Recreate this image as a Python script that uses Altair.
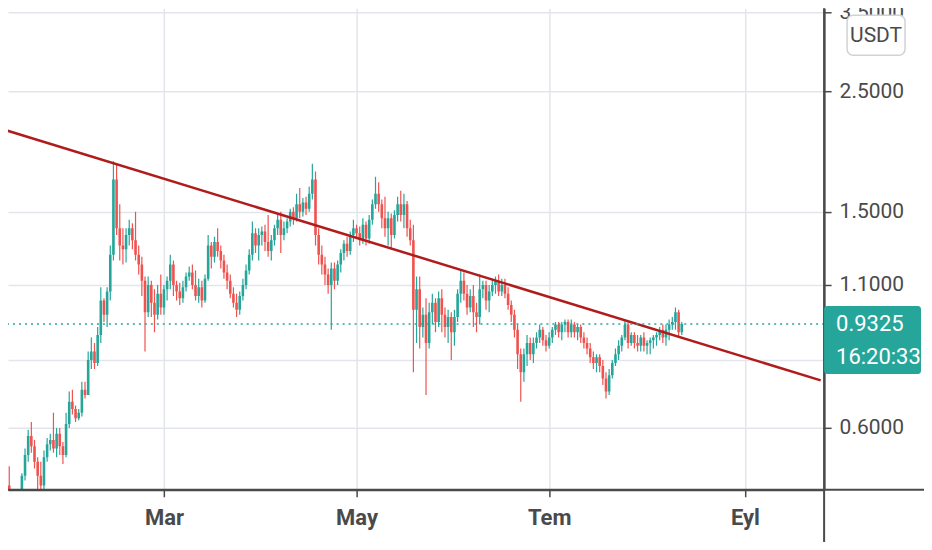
import altair as alt
import pandas as pd

# ---------------- data (daily candles) ----------------
start_date = "2021-01-10"
first_open = 0.505

closes = [
    0.47, 0.45, 0.44, 0.43, 0.445, 0.49, 0.535, 0.58, 0.555, 0.52,
    0.49, 0.47, 0.53, 0.56, 0.57, 0.55, 0.585, 0.555, 0.535, 0.61,
    0.67, 0.65, 0.625, 0.64, 0.705, 0.69, 0.80, 0.83, 0.79, 0.89,
    1.03, 0.97, 1.07, 1.25, 1.72, 1.40, 1.30, 1.28, 1.36, 1.40,
    1.33, 1.25, 1.20, 1.12, 0.98, 1.10, 1.02, 0.97, 1.06, 1.00,
    1.08, 1.12, 1.20, 1.10, 1.07, 1.04, 1.09, 1.14, 1.16, 1.10,
    1.05, 1.09, 1.03, 1.13, 1.30, 1.24, 1.32, 1.27, 1.22, 1.16,
    1.12, 1.06, 1.02, 0.99, 1.05, 1.10, 1.17, 1.25, 1.37, 1.30,
    1.36, 1.38, 1.32, 1.27, 1.33, 1.40, 1.45, 1.36, 1.40, 1.44,
    1.50, 1.46, 1.55, 1.50, 1.56, 1.52, 1.62, 1.72, 1.36, 1.25,
    1.20, 1.15, 1.10, 1.18, 1.12, 1.20, 1.26, 1.31, 1.27, 1.36,
    1.40, 1.37, 1.33, 1.42, 1.34, 1.45, 1.55, 1.62, 1.55, 1.46,
    1.40, 1.46, 1.36, 1.48, 1.55, 1.48, 1.55, 1.40, 1.33, 0.99,
    1.08, 0.92, 0.97, 0.86, 0.98, 1.02, 0.94, 1.04, 0.97, 0.92,
    0.96, 0.90, 0.96, 1.06, 1.12, 1.06, 1.00, 1.05, 0.98, 0.96,
    1.08, 1.10, 1.03, 1.07, 1.10, 1.12, 1.07, 1.10, 1.06, 1.01,
    0.97, 0.91, 0.82, 0.76, 0.82, 0.86, 0.82, 0.86, 0.88, 0.91,
    0.87, 0.85, 0.88, 0.91, 0.93, 0.90, 0.93, 0.94, 0.90, 0.93,
    0.90, 0.92, 0.88, 0.86, 0.84, 0.81, 0.79, 0.81, 0.78, 0.74,
    0.70, 0.75, 0.79, 0.82, 0.85, 0.88, 0.93, 0.86, 0.89, 0.86,
    0.85, 0.88, 0.85, 0.86, 0.87, 0.88, 0.89, 0.91, 0.88, 0.91,
    0.93, 0.94, 0.98, 0.90, 0.9325,
]
highs = [
    0.515, 0.51, 0.455, 0.45, 0.455, 0.495, 0.55, 0.595, 0.615, 0.57,
    0.53, 0.52, 0.545, 0.575, 0.585, 0.64, 0.60, 0.60, 0.565, 0.64,
    0.70, 0.705, 0.66, 0.65, 0.73, 0.73, 0.83, 0.88, 0.86, 0.92,
    1.09, 1.04, 1.09, 1.30, 1.86, 1.83, 1.55, 1.40, 1.40, 1.45,
    1.43, 1.50, 1.30, 1.24, 1.14, 1.14, 1.12, 1.08, 1.10, 1.15,
    1.10, 1.14, 1.25, 1.22, 1.12, 1.11, 1.12, 1.16, 1.19, 1.20,
    1.17, 1.13, 1.12, 1.15, 1.36, 1.32, 1.35, 1.40, 1.30, 1.25,
    1.20, 1.15, 1.09, 1.06, 1.07, 1.13, 1.20, 1.28, 1.44, 1.40,
    1.40, 1.41, 1.42, 1.48, 1.36, 1.42, 1.48, 1.50, 1.44, 1.46,
    1.52, 1.53, 1.62, 1.66, 1.59, 1.60, 1.67, 1.84, 1.78, 1.40,
    1.30, 1.24, 1.18, 1.21, 1.21, 1.22, 1.28, 1.33, 1.35, 1.38,
    1.45, 1.42, 1.41, 1.46, 1.44, 1.48, 1.58, 1.74, 1.70, 1.58,
    1.60, 1.50, 1.49, 1.51, 1.60, 1.64, 1.62, 1.57, 1.45, 1.42,
    1.14, 1.14, 1.00, 1.04, 1.02, 1.06, 1.04, 1.07, 1.08, 1.00,
    0.99, 0.98, 0.99, 1.08, 1.17, 1.16, 1.10, 1.08, 1.10, 1.02,
    1.15, 1.12, 1.12, 1.10, 1.13, 1.14, 1.15, 1.13, 1.13, 1.09,
    1.03, 0.99, 0.93, 0.84, 0.84, 0.89, 0.88, 0.88, 0.90, 0.93,
    0.92, 0.89, 0.90, 0.92, 0.94, 0.94, 0.94, 0.95, 0.95, 0.95,
    0.94, 0.93, 0.93, 0.90, 0.88, 0.86, 0.83, 0.82, 0.82, 0.80,
    0.76, 0.77, 0.80, 0.84, 0.87, 0.89, 0.95, 0.94, 0.90, 0.90,
    0.89, 0.89, 0.90, 0.87, 0.88, 0.89, 0.90, 0.92, 0.93, 0.93,
    0.95, 0.96, 1.00, 0.99, 0.94,
]
lows = [
    0.44, 0.43, 0.42, 0.41, 0.42, 0.44, 0.48, 0.52, 0.54, 0.505,
    0.455, 0.44, 0.46, 0.52, 0.545, 0.54, 0.53, 0.535, 0.515, 0.53,
    0.60, 0.635, 0.615, 0.62, 0.63, 0.68, 0.69, 0.77, 0.77, 0.78,
    0.86, 0.94, 0.92, 1.03, 1.22, 1.36, 1.22, 1.20, 1.21, 1.30,
    1.28, 1.22, 1.15, 1.05, 0.83, 0.96, 0.96, 0.90, 0.95, 0.97,
    0.97, 1.03, 1.08, 1.05, 1.03, 1.01, 1.02, 1.07, 1.12, 1.08,
    1.03, 1.02, 1.00, 1.02, 1.12, 1.18, 1.21, 1.24, 1.18, 1.13,
    1.08, 1.04, 1.00, 0.96, 0.97, 1.03, 1.08, 1.15, 1.22, 1.26,
    1.22, 1.30, 1.27, 1.24, 1.22, 1.30, 1.36, 1.26, 1.33, 1.37,
    1.41, 1.42, 1.44, 1.46, 1.47, 1.48, 1.50, 1.58, 1.30, 1.20,
    1.15, 1.10, 1.06, 0.91, 1.08, 1.10, 1.16, 1.22, 1.24, 1.25,
    1.32, 1.34, 1.30, 1.31, 1.30, 1.31, 1.42, 1.52, 1.50, 1.40,
    1.35, 1.30, 1.28, 1.34, 1.44, 1.44, 1.40, 1.35, 1.30, 0.76,
    0.86, 0.84, 0.88, 0.69, 0.84, 0.93, 0.90, 0.92, 0.90, 0.88,
    0.86, 0.80, 0.85, 0.94, 1.02, 1.03, 0.97, 0.98, 0.92, 0.90,
    0.93, 1.04, 0.99, 0.98, 1.05, 1.06, 1.05, 1.05, 1.04, 0.99,
    0.94, 0.88, 0.77, 0.67, 0.73, 0.78, 0.80, 0.79, 0.84, 0.86,
    0.85, 0.83, 0.84, 0.86, 0.89, 0.88, 0.87, 0.90, 0.88, 0.88,
    0.88, 0.87, 0.86, 0.84, 0.82, 0.79, 0.77, 0.76, 0.76, 0.72,
    0.68, 0.69, 0.74, 0.78, 0.80, 0.83, 0.87, 0.84, 0.85, 0.84,
    0.83, 0.83, 0.83, 0.82, 0.82, 0.84, 0.85, 0.87, 0.86, 0.85,
    0.87, 0.91, 0.91, 0.88, 0.89,
]

last_price = 0.9325
last_price_label = "0.9325"
countdown_label = "16:20:33"
currency_label = "USDT"

month_names = ["Oca", "Şub", "Mar", "Nis", "May", "Haz",
               "Tem", "Ağu", "Eyl", "Eki", "Kas", "Ara"]
month_ticks = ["2021-03-01", "2021-05-01", "2021-07-01", "2021-09-01"]
price_ticks = [0.6, 0.8, 1.1, 1.5, 2.5, 3.5]

trend_dates = ["2021-01-10", "2021-09-25"]
trend_prices = [2.12, 0.734]

x_range = ["2021-01-12 04:30", "2021-09-24 12:00"]
y_range = [0.4615, 3.557]

# ---------------- table ----------------
dates = pd.date_range(start_date, periods=len(closes), freq="D")
opens = [first_open] + closes[:-1]
df = pd.DataFrame({
    "date": dates.strftime("%Y-%m-%d"),
    "open": opens,
    "close": closes,
    "high": [max(h, o, c) for h, o, c in zip(highs, opens, closes)],
    "low": [min(l, o, c) for l, o, c in zip(lows, opens, closes)],
})
df["dir"] = ["up" if c >= o else "down" for o, c in zip(df["open"], df["close"])]


def ms(s):
    return int(pd.Timestamp(s, tz="UTC").value // 10**6)


x_dom = [ms(s) for s in x_range]
tick_ms = [ms(s) for s in month_ticks]

TEAL = "#26a69a"
RED = "#ef5350"
TREND = "#b01c1c"
AXIS = "#4a4a4a"
GRID = "#e2e5eb"
FONT = "Roboto, sans-serif"
W, H = 817, 482

x_scale = alt.Scale(type="utc", domain=x_dom, nice=False)
y_scale = alt.Scale(type="log", domain=y_range, nice=False, zero=False)
color_scale = alt.Scale(domain=["up", "down"], range=[TEAL, RED])

names_js = "[" + ",".join("'" + m + "'" for m in month_names) + "]"

x_axis = alt.Axis(
    values=tick_ms, labelExpr=names_js + "[utcmonth(datum.value)]",
    labelFont=FONT, labelFontSize=22, labelFontWeight="bold", labelColor=AXIS,
    labelPadding=11, labelOverlap=False, labelFlush=False,
    tickColor=AXIS, tickSize=7, tickWidth=1.5,
    domainColor=AXIS, domainWidth=2, title=None,
    grid=True, gridColor=GRID, gridWidth=1.5, zindex=0,
)
y_axis = alt.Axis(
    orient="right", values=price_ticks,
    labelExpr="datum.value == 0.8 ? '' : format(datum.value, '.4f')",
    labelFont=FONT, labelFontSize=21, labelColor=AXIS, labelPadding=8,
    labelOverlap=False, labelFlush=False,
    tickColor=AXIS, tickSize=7, tickWidth=1.5,
    domainColor=AXIS, domainWidth=2, title=None,
    grid=True, gridColor=GRID, gridWidth=1.5, zindex=0,
)

X = alt.X("date:T", scale=x_scale, axis=x_axis, title=None)
base = alt.Chart(df)

wicks = base.mark_rule(strokeWidth=1.2, clip=True).encode(
    x=X,
    y=alt.Y("low:Q", scale=y_scale, axis=y_axis, title=None),
    y2="high:Q",
    color=alt.Color("dir:N", scale=color_scale, legend=None),
)
bodies = base.mark_bar(size=2.6, clip=True).encode(
    x=X,
    y=alt.Y("open:Q", scale=y_scale, axis=y_axis, title=None),
    y2="close:Q",
    color=alt.Color("dir:N", scale=color_scale, legend=None),
)

trend_df = pd.DataFrame({"date": trend_dates, "price": trend_prices})
trend = alt.Chart(trend_df).mark_line(color=TREND, strokeWidth=2.5, clip=True).encode(
    x=X,
    y=alt.Y("price:Q", scale=y_scale, axis=y_axis, title=None),
)

last_df = pd.DataFrame({"p": [last_price], "label": [last_price_label],
                        "timer": [countdown_label]})
last_base = alt.Chart(last_df)
PY = alt.Y("p:Q", scale=y_scale, axis=y_axis, title=None)
price_line = last_base.mark_rule(color=TEAL, strokeWidth=1.5, strokeDash=[2, 4]).encode(
    y=PY,
)
price_box = last_base.mark_rect(color=TEAL, yOffset=-18, y2Offset=50,
                                cornerRadius=3, clip=False).encode(
    x=alt.value(W), x2=alt.value(W + 97),
    y=PY, y2="p:Q",
)
price_text = last_base.mark_text(align="left", baseline="middle", font=FONT,
                                 fontSize=22, color="white", clip=False).encode(
    x=alt.value(W + 12), y=PY, text="label:N",
)
timer_text = last_base.mark_text(align="left", baseline="middle", font=FONT,
                                 fontSize=22, color="white", dy=33, clip=False).encode(
    x=alt.value(W + 12), y=PY, text="timer:N",
)

one = pd.DataFrame({"k": [0]})
x_line = alt.Chart(one).mark_rule(color=AXIS, strokeWidth=2, clip=False).encode(
    x=alt.value(0), x2=alt.value(W + 110), y=alt.value(H))
y_line = alt.Chart(one).mark_rule(color=AXIS, strokeWidth=2, clip=False).encode(
    x=alt.value(W), y=alt.value(0), y2=alt.value(H + 70))

cur_df = pd.DataFrame({"label": [currency_label]})
cur_box = alt.Chart(cur_df).mark_rect(fill="white", stroke="#cfd2d8", strokeWidth=1.5,
                                      cornerRadius=6, clip=False).encode(
    x=alt.value(W + 23), x2=alt.value(W + 81), y=alt.value(7), y2=alt.value(47))
cur_text = alt.Chart(cur_df).mark_text(align="center", baseline="middle", font=FONT,
                                       fontSize=21, color=AXIS, clip=False).encode(
    x=alt.value(W + 52), y=alt.value(28), text="label:N")

chart = alt.layer(
    wicks, bodies, trend, price_line, x_line, y_line,
    price_box, price_text, timer_text, cur_box, cur_text,
).properties(
    width=W, height=H,
    autosize=alt.AutoSizeParams(type="none"),
    padding={"left": 0, "top": 0, "right": 100, "bottom": 52},
    background="white",
).configure_view(stroke=None)

chart.save("out.html", embed_options={"renderer": "svg", "actions": False})
